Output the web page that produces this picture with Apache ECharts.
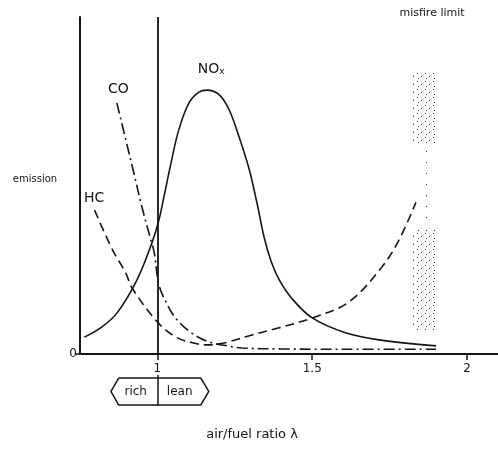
<!DOCTYPE html>
<html>
<head>
<meta charset="utf-8">
<script src="https://cdn.jsdelivr.net/npm/echarts@6/dist/echarts.min.js"></script>
<style>
html, body { margin: 0; padding: 0; background: #fff; }
#chart-container { width: 498px; height: 451px; }
</style>
</head>
<body>
<div id="chart-container"></div>
<script>
// values (lambda on x, relative emission 0..100 on y)
var noxLambda = [0.764, 0.82, 0.87, 0.934, 0.982, 1.005, 1.021, 1.044, 1.069, 1.102, 1.134, 1.16, 1.2, 1.232, 1.265, 1.297, 1.323, 1.345, 1.368, 1.394, 1.435, 1.5, 1.61, 1.716, 1.9];
var noxValues = [5.0, 8.0, 12.2, 22.0, 32.9, 39.8, 46.6, 56.7, 66.5, 74.5, 77.7, 78.3, 76.9, 72.4, 64.1, 54.6, 44.2, 34.5, 27.3, 21.9, 16.4, 10.7, 6.2, 4.2, 2.4];

var hcLambda = [0.797, 0.855, 0.898, 0.918, 1.0, 1.06, 1.12, 1.166, 1.2, 1.23, 1.3, 1.39, 1.5, 1.618, 1.725, 1.78, 1.835];
var hcValues = [42.7, 30.9, 24.0, 19.6, 9.5, 5.0, 3.2, 2.7, 3.0, 3.6, 5.5, 7.7, 10.7, 15.4, 25.8, 33.8, 45.0];

var coLambda = [0.869, 0.898, 0.924, 0.95, 0.979, 0.99, 1.005, 1.03, 1.06, 1.111, 1.166, 1.22, 1.273, 1.4, 1.6, 1.9];
var coValues = [74.5, 63.5, 53.7, 43.6, 33.8, 30.0, 20.5, 15.0, 10.5, 6.2, 3.6, 2.5, 1.8, 1.5, 1.4, 1.4];

var xTicks = [1, 1.5, 2];
var yTicks = [0];

// misfire limit stipple: [lambdaFrom, lambdaTo, top, bottom]; the middle one is sparse
var misfireBands = [
    [1.82, 1.90, 84, 62],
    [1.855, 1.88, 62, 40],
    [1.82, 1.90, 37, 7]
];

var ink = '#151515';
var font = 'DejaVu Sans';

function pairs(xs, ys) {
    return xs.map(function (x, i) { return [x, ys[i]]; });
}

function dotPattern(size, pts) {
    var c = document.createElement('canvas');
    c.width = size;
    c.height = size;
    var ctx = c.getContext('2d');
    ctx.fillStyle = '#3a3a3a';
    pts.forEach(function (p) { ctx.fillRect(p[0], p[1], 1, 1); });
    return { image: c, repeat: 'repeat' };
}
var densePattern = dotPattern(8, [[1, 1], [5, 4], [2, 6]]);
var sparsePattern = dotPattern(11, [[3, 3], [8, 8]]);

function textLabel(text, coord, size) {
    return {
        coord: coord,
        label: { formatter: text, fontSize: size }
    };
}

var dom = document.getElementById('chart-container');
var myChart = echarts.init(dom, null, { renderer: 'canvas' });

var option = {
    animation: false,
    grid: [
        { left: 80, right: 0, top: 17, bottom: 97, containLabel: false, outerBoundsMode: 'none' },
        // strip under the axis for the rich / lean marker
        { left: 80, right: 0, top: 372, height: 36, containLabel: false, outerBoundsMode: 'none' }
    ],
    xAxis: [{
        type: 'value',
        min: 0.75,
        max: 2.1,
        axisLine: { lineStyle: { color: ink, width: 2 } },
        axisTick: { customValues: xTicks, length: 6, lineStyle: { color: ink, width: 1.5 } },
        axisLabel: { customValues: xTicks, color: ink, fontFamily: font, fontSize: 12, margin: 9 },
        splitLine: { show: false }
    }, {
        type: 'value', gridIndex: 1, min: 0.75, max: 2.1, show: false
    }],
    yAxis: [{
        type: 'value',
        min: 0,
        max: 100,
        axisLine: { show: true, lineStyle: { color: ink, width: 2 } },
        axisTick: { show: true, customValues: yTicks, length: 4, lineStyle: { color: ink, width: 1.5 } },
        axisLabel: { customValues: yTicks, color: ink, fontFamily: font, fontSize: 12, margin: 3 },
        splitLine: { show: false }
    }, {
        type: 'value', gridIndex: 1, min: 0, max: 1, show: false
    }],
    graphic: [
        { type: 'text', x: 35, y: 179, style: { text: 'emission', fill: ink, font: '10px "DejaVu Sans"', textAlign: 'center', textVerticalAlign: 'middle' } },
        { type: 'text', x: 432, y: 13, style: { text: 'misfire limit', fill: ink, font: '11px "DejaVu Sans"', textAlign: 'center', textVerticalAlign: 'middle' } },
        { type: 'text', x: 252, y: 435, style: { text: 'air/fuel ratio λ', fill: ink, font: '13px "DejaVu Sans"', textAlign: 'center', textVerticalAlign: 'middle' } }
    ],
    series: [
        {
            name: 'NOx',
            type: 'line',
            data: pairs(noxLambda, noxValues),
            smooth: 0.35,
            symbol: 'none',
            lineStyle: { color: ink, width: 1.6 },
            markLine: {
                silent: true,
                symbol: 'none',
                label: { show: false },
                lineStyle: { color: ink, width: 1.8, type: 'solid' },
                data: [{ xAxis: 1 }]
            },
            markPoint: {
                symbol: 'circle',
                symbolSize: 0,
                label: {
                    show: true, position: 'inside', color: ink, fontFamily: font, fontSize: 14,
                    formatter: 'NO{sub|x}',
                    rich: { sub: { fontSize: 9, verticalAlign: 'bottom', padding: [6, 0, 0, 0], fontFamily: font, color: ink } }
                },
                data: [{ coord: [1.174, 84.6] }]
            }
        },
        {
            name: 'HC',
            type: 'line',
            data: pairs(hcLambda, hcValues),
            smooth: 0.35,
            symbol: 'none',
            lineStyle: { color: ink, width: 1.6, type: [9, 5] },
            markPoint: {
                symbol: 'circle',
                symbolSize: 0,
                label: { show: true, position: 'inside', color: ink, fontFamily: font, fontSize: 14, formatter: 'HC' },
                data: [{ coord: [0.796, 46.3] }]
            }
        },
        {
            name: 'CO',
            type: 'line',
            data: pairs(coLambda, coValues),
            smooth: 0.35,
            symbol: 'none',
            lineStyle: { color: ink, width: 1.6, type: [11, 4, 2, 4] },
            markPoint: {
                symbol: 'circle',
                symbolSize: 0,
                label: { show: true, position: 'inside', color: ink, fontFamily: font, fontSize: 14, formatter: 'CO' },
                data: [{ coord: [0.874, 78.6] }]
            },
            markArea: {
                silent: true,
                data: misfireBands.map(function (b, i) {
                    return [
                        { xAxis: b[0], yAxis: b[2], itemStyle: { color: i === 1 ? sparsePattern : densePattern } },
                        { xAxis: b[1], yAxis: b[3] }
                    ];
                })
            }
        },
        {
            // rich / lean double-headed marker under the axis
            name: 'richLeanBox',
            type: 'line',
            xAxisIndex: 1,
            yAxisIndex: 1,
            silent: true,
            symbol: 'none',
            lineStyle: { color: ink, width: 1.5 },
            data: [[0.875, 0.83], [0.85, 0.46], [0.875, 0.08], [1.14, 0.08], [1.166, 0.46], [1.14, 0.83], [0.875, 0.83]],
            markLine: {
                silent: true,
                symbol: 'none',
                label: { show: false },
                lineStyle: { color: ink, width: 1.5, type: 'solid' },
                data: [[{ coord: [1, 0.92] }, { coord: [1, 0.06] }]]
            },
            markPoint: {
                symbol: 'circle',
                symbolSize: 0,
                label: { show: true, position: 'inside', color: ink, fontFamily: font },
                data: [textLabel('rich', [0.93, 0.46], 12), textLabel('lean', [1.072, 0.46], 12)]
            }
        }
    ]
};

myChart.setOption(option);

window.addEventListener('resize', myChart.resize);
</script>
</body>
</html>
